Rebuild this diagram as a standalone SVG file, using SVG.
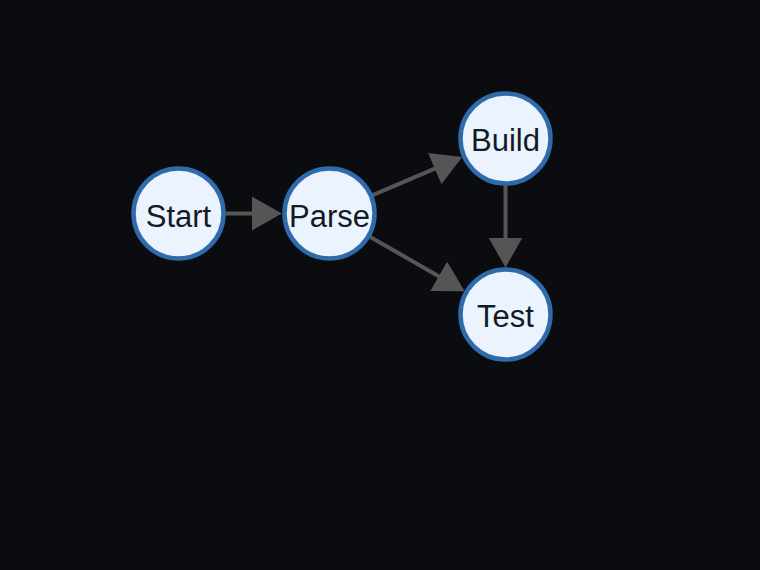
<svg xmlns="http://www.w3.org/2000/svg" width="760" height="570" viewBox="0 0 760 570">
<style>
.node circle{fill:#eaf3fe;stroke:#2f6aaa;stroke-width:4.5}
.node text{font-family:"Liberation Sans",Arial,sans-serif;font-size:31px;fill:#141a24;text-anchor:middle}
.edge{stroke:#555555;stroke-width:4;fill:none;marker-end:url(#arr)}
</style>
<defs>
<marker id="arr" markerUnits="userSpaceOnUse" viewBox="0 0 30 34" refX="2" refY="17" markerWidth="30" markerHeight="34" orient="auto">
<path d="M0,0 L30,17 L0,34 z" fill="#555555"/>
</marker>
</defs>
<rect width="760" height="570" fill="#0b0c10"/>
<g id="edges">
<line class="edge" x1="225" y1="213.5" x2="254" y2="213.5"/>
<line class="edge" x1="372.7" y1="195.1" x2="436.5" y2="167.9"/>
<line class="edge" x1="370.3" y1="236.9" x2="440.4" y2="277.2"/>
<line class="edge" x1="505.5" y1="185.5" x2="505.5" y2="239.5"/>
</g>
<g id="start" class="node"><circle cx="178.5" cy="213.5" r="45"/><text x="178.5" y="227">Start</text></g>
<g id="parse" class="node"><circle cx="329.5" cy="213.5" r="45"/><text x="329.5" y="227">Parse</text></g>
<g id="build" class="node"><circle cx="505.5" cy="138.5" r="45"/><text x="505.5" y="151">Build</text></g>
<g id="test" class="node"><circle cx="505.5" cy="314.5" r="45"/><text x="505.5" y="327">Test</text></g>
</svg>
